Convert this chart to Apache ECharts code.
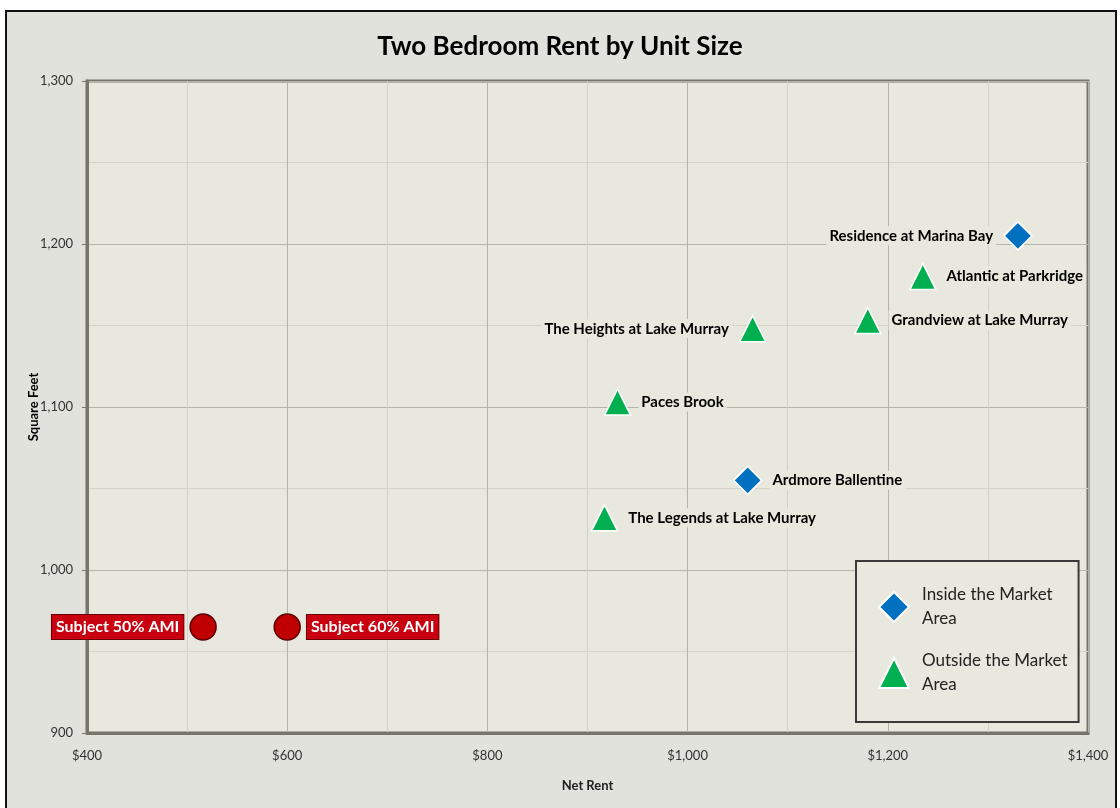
<!DOCTYPE html>
<html>
<head>
<meta charset="utf-8">
<title>Two Bedroom Rent by Unit Size</title>
<script src="https://cdn.jsdelivr.net/npm/echarts@6/dist/echarts.min.js"></script>
<style>
  html, body { margin: 0; padding: 0; background: #ffffff; overflow: hidden; }
  #frame {
    position: absolute; left: 5px; top: 10px; width: 1108px; height: 820px;
    border: 2px solid #111; background: #e2e2dc;
  }
  #chart { position: absolute; left: 0; top: 0; width: 1120px; height: 808px; }
</style>
</head>
<body>
<div id="frame"></div>
<div id="chart"></div>
<script>
// comparables inside the market area
const insideNames = ['Residence at Marina Bay', 'Ardmore Ballentine'];
const insideRent = [1330, 1060];
const insideSqft = [1205, 1055];
const insideSide = ['left', 'right'];

// comparables outside the market area
const outsideNames = ['Atlantic at Parkridge', 'Grandview at Lake Murray', 'The Heights at Lake Murray',
  'Paces Brook', 'The Legends at Lake Murray'];
const outsideRent = [1235, 1180, 1065, 930, 917];
const outsideSqft = [1180, 1153, 1148, 1103, 1032];
const outsideSide = ['right', 'right', 'left', 'right', 'right'];

// subject property
const subjectNames = ['Subject 50% AMI', 'Subject 60% AMI'];
const subjectRent = [516, 600];
const subjectSqft = [965, 965];
const subjectSide = ['left', 'right'];

const xTicks = [400, 600, 800, 1000, 1200, 1400];
const yTicks = [900, 1000, 1100, 1200, 1300];

const FONT = 'Lato, "Open Sans", sans-serif';
const PLOT_BG = '#e9e8de';

function points(names, rent, sqft, side) {
  return names.map((n, i) => ({
    name: n,
    value: [rent[i], sqft[i]],
    label: { position: side[i] }
  }));
}

const plainLabel = {
  show: true,
  formatter: '{b}',
  fontFamily: FONT,
  fontWeight: 'bold',
  fontSize: 15,
  color: '#000',
  backgroundColor: PLOT_BG,
  padding: [2, 3],
  distance: 7
};

const chart = echarts.init(document.getElementById('chart'));

chart.setOption({
  backgroundColor: 'transparent',
  animation: false,
  title: {
    text: 'Two Bedroom Rent by Unit Size',
    left: 'center',
    top: 29,
    textStyle: { fontFamily: FONT, fontWeight: 'bold', fontSize: 26, color: '#000' }
  },
  grid: {
    left: 87, right: 32, top: 81, bottom: 75,
    show: true,
    backgroundColor: PLOT_BG,
    borderColor: '#75756a',
    borderWidth: 3
  },
  legend: {
    data: ['Inside the Market Area', 'Outside the Market Area'],
    orient: 'vertical',
    left: 856,
    top: 561,
    padding: [22, 11, 25, 22],
    itemGap: 18,
    itemWidth: 30,
    itemHeight: 30,
    backgroundColor: PLOT_BG,
    borderColor: '#3a3a3a',
    borderWidth: 2,
    formatter: name => name.replace(' Area', '\nArea'),
    textStyle: { fontFamily: FONT, fontSize: 17, color: '#222', lineHeight: 24, padding: [0, 0, 0, 8] }
  },
  xAxis: {
    type: 'value',
    min: xTicks[0],
    max: xTicks[xTicks.length - 1],
    interval: 200,
    name: 'Net Rent',
    nameLocation: 'middle',
    nameGap: 46,
    nameTextStyle: { fontFamily: FONT, fontWeight: 'bold', fontSize: 13, color: '#222' },
    axisLine: { lineStyle: { color: '#75756a', width: 3 } },
    axisTick: { show: false },
    axisLabel: {
      fontFamily: FONT, fontSize: 13, color: '#333', margin: 16,
      formatter: v => '$' + v.toLocaleString('en-US')
    },
    splitLine: { lineStyle: { color: '#b4b4aa', width: 1 } },
    minorTick: { show: false, splitNumber: 2 },
    minorSplitLine: { show: true, lineStyle: { color: '#d3d3c9', width: 1 } }
  },
  yAxis: {
    type: 'value',
    min: yTicks[0],
    max: yTicks[yTicks.length - 1],
    interval: 100,
    name: 'Square Feet',
    nameLocation: 'middle',
    nameRotate: 90,
    nameGap: 47,
    nameMoveOverlap: false,
    nameTextStyle: { fontFamily: FONT, fontWeight: 'bold', fontSize: 13, color: '#000' },
    axisLine: { show: true, lineStyle: { color: '#75756a', width: 3 } },
    axisTick: { show: true, length: 5, lineStyle: { color: '#75756a' } },
    axisLabel: {
      fontFamily: FONT, fontSize: 13, color: '#333', margin: 14,
      formatter: v => v.toLocaleString('en-US')
    },
    splitLine: { lineStyle: { color: '#b4b4aa', width: 1 } },
    minorTick: { show: false, splitNumber: 2 },
    minorSplitLine: { show: true, lineStyle: { color: '#d3d3c9', width: 1 } }
  },
  series: [
    {
      name: 'Inside the Market Area',
      type: 'scatter',
      symbol: 'diamond',
      symbolSize: 28,
      itemStyle: { color: '#0070c0', borderColor: '#ffffff', borderWidth: 1.5, opacity: 1 },
      label: plainLabel,
      data: points(insideNames, insideRent, insideSqft, insideSide)
    },
    {
      name: 'Outside the Market Area',
      type: 'scatter',
      symbol: 'triangle',
      symbolSize: 26,
      itemStyle: { color: '#00b050', borderColor: '#ffffff', borderWidth: 1.5, opacity: 1 },
      label: plainLabel,
      data: points(outsideNames, outsideRent, outsideSqft, outsideSide)
    },
    {
      name: 'Subject',
      type: 'scatter',
      symbol: 'circle',
      symbolSize: 26,
      itemStyle: { color: '#c00000', borderColor: '#5a0000', borderWidth: 1.5, opacity: 1 },
      label: {
        show: true,
        formatter: '{b}',
        fontFamily: FONT,
        fontWeight: 'bold',
        fontSize: 16,
        color: '#ffffff',
        backgroundColor: '#c8000f',
        borderColor: '#6a0000',
        borderWidth: 1,
        padding: [4, 4],
        distance: 6
      },
      data: points(subjectNames, subjectRent, subjectSqft, subjectSide)
    }
  ]
});
</script>
</body>
</html>
